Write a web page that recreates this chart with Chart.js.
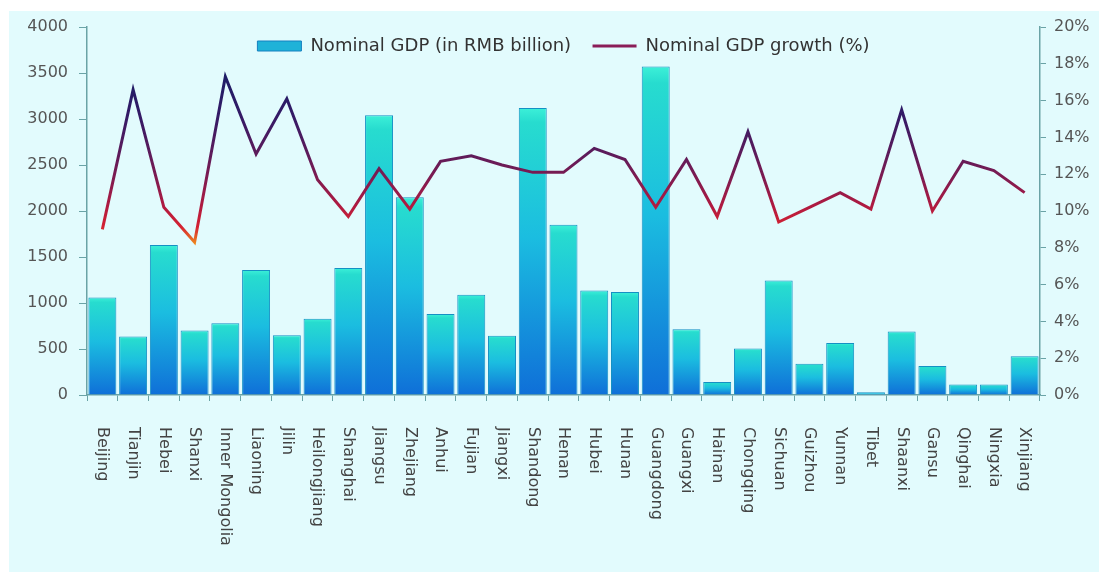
<!DOCTYPE html>
<html>
<head>
<meta charset="utf-8">
<title>Nominal GDP by province</title>
<script src="https://cdn.jsdelivr.net/npm/chart.js@4.4.0/dist/chart.umd.min.js"></script>
<style>
  html, body { margin: 0; padding: 0; background: #fff; }
  #wrap { position: relative; width: 1099px; height: 572px; }
  #panel { position: absolute; left: 9px; top: 11px; right: 0; bottom: 0; background: #e2fbfd; }
  #chart { position: absolute; left: 0; top: 0; }
</style>
</head>
<body>
<div id="wrap">
  <div id="panel"></div>
  <canvas id="chart" width="1099" height="572"></canvas>
</div>
<script>
var provinces = ['Beijing', 'Tianjin', 'Hebei', 'Shanxi', 'Inner Mongolia', 'Liaoning', 'Jilin',
  'Heilongjiang', 'Shanghai', 'Jiangsu', 'Zhejiang', 'Anhui', 'Fujian', 'Jiangxi', 'Shandong',
  'Henan', 'Hubei', 'Hunan', 'Guangdong', 'Guangxi', 'Hainan', 'Chongqing', 'Sichuan', 'Guizhou',
  'Yunnan', 'Tibet', 'Shaanxi', 'Gansu', 'Qinghai', 'Ningxia', 'Xinjiang'];

// nominal GDP, RMB billion
var gdpValues = [1060, 635, 1630, 700, 780, 1360, 650, 830, 1380, 3040, 2150, 880, 1090, 645, 3120,
  1850, 1135, 1120, 3570, 715, 140, 505, 1245, 340, 565, 30, 690, 315, 115, 115, 420];

// nominal GDP growth, %
var growthValues = [9.0, 16.6, 10.2, 8.3, 17.3, 13.1, 16.1, 11.7, 9.7, 12.3, 10.1, 12.7, 13.0, 12.5, 12.1,
  12.1, 13.4, 12.8, 10.2, 12.8, 9.7, 14.3, 9.4, 10.2, 11.0, 10.1, 15.5, 10.0, 12.7, 12.2, 11.0];

var gdpTicks = [0, 500, 1000, 1500, 2000, 2500, 3000, 3500, 4000];
var growthTicks = [0, 2, 4, 6, 8, 10, 12, 14, 16, 18, 20];

var axisColor = '#6aa3a6';
var fontFamily = '"DejaVu Sans", sans-serif';

function barFill(c) {
    var chart = c.chart;
    if (c.type !== 'data' || !chart.chartArea) return '#1fb2d8';
    var y = chart.scales.y;
    var top = y.getPixelForValue(c.raw);
    var base = y.getPixelForValue(0);
    var g = chart.ctx.createLinearGradient(0, top, 0, base);
    g.addColorStop(0, '#3cf0d8');
    g.addColorStop(0.05, '#27dccf');
    g.addColorStop(0.45, '#1bbde0');
    g.addColorStop(1, '#0f6fd8');
    return g;
}

function lineStroke(c) {
    var chart = c.chart;
    if (!chart.chartArea) return '#8a1d58';
    var y1 = chart.scales.y1;
    var g = chart.ctx.createLinearGradient(0, y1.getPixelForValue(17.5), 0, y1.getPixelForValue(8.2));
    g.addColorStop(0, '#1c1d66');
    g.addColorStop(0.25, '#341a66');
    g.addColorStop(0.48, '#5e1b5a');
    g.addColorStop(0.62, '#801b50');
    g.addColorStop(0.78, '#b01a40');
    g.addColorStop(0.9, '#d42232');
    g.addColorStop(1, '#ee8a1e');
    return g;
}

// legend sits inside the plot area but keeps its items in one row
var rowLegend = {
    id: 'rowLegend',
    beforeLayout: function (chart) {
        if (chart.legend) chart.legend.isHorizontal = function () { return true; };
    },
    afterLayout: function (chart) {
        if (!chart.legend) return;
        chart.legend.left = chart.chartArea.left;
        chart.legend.right = chart.chartArea.right;
    }
};

// province names run top-to-bottom under each bar
var provinceLabels = {
    id: 'provinceLabels',
    afterDraw: function (chart) {
        var ctx = chart.ctx;
        var xs = chart.scales.x;
        var top = chart.chartArea.bottom + 32;
        ctx.save();
        ctx.font = '16px ' + fontFamily;
        ctx.fillStyle = '#444';
        ctx.textAlign = 'left';
        ctx.textBaseline = 'middle';
        provinces.forEach(function (name, i) {
            ctx.save();
            ctx.translate(xs.getPixelForTick(i), top);
            ctx.rotate(Math.PI / 2);
            ctx.fillText(name, 0, 0);
            ctx.restore();
        });
        ctx.restore();
    }
};

var ctx = document.getElementById('chart').getContext('2d');
var chart = new Chart(ctx, {
    type: 'bar',
    data: {
        labels: provinces,
        datasets: [{
            type: 'bar',
            label: 'Nominal GDP (in RMB billion)',
            data: gdpValues,
            yAxisID: 'y',
            order: 1,
            backgroundColor: barFill,
            borderColor: '#1590c4',
            borderWidth: 1,
            barPercentage: 0.91,
            categoryPercentage: 1.0
        }, {
            type: 'line',
            label: 'Nominal GDP growth (%)',
            data: growthValues,
            yAxisID: 'y1',
            order: 0,
            borderColor: lineStroke,
            borderWidth: 3,
            pointRadius: 0,
            tension: 0,
            fill: false
        }]
    },
    options: {
        responsive: false,
        animation: false,
        devicePixelRatio: 1,
        layout: { padding: { top: 27, left: 0, right: 0, bottom: 0 } },
        plugins: {
            tooltip: { enabled: false },
            legend: {
                position: 'chartArea',
                align: 'center',
                labels: {
                    usePointStyle: true,
                    pointStyleWidth: 44,
                    boxHeight: 10,
                    padding: 10,
                    color: '#333',
                    font: { family: fontFamily, size: 18 },
                    sort: function (a, b) { return a.datasetIndex - b.datasetIndex; },
                    generateLabels: function (chart) {
                        var items = Chart.defaults.plugins.legend.labels.generateLabels(chart);
                        items.forEach(function (item) {
                            if (item.datasetIndex === 0) {
                                item.pointStyle = 'rect';
                                item.fillStyle = '#1fb2d8';
                                item.strokeStyle = '#1580c0';
                                item.lineWidth = 1;
                                item.text += '  ';
                            } else {
                                item.pointStyle = 'line';
                                item.strokeStyle = '#8a1d58';
                                item.lineWidth = 3;
                            }
                        });
                        return items;
                    }
                }
            }
        },
        scales: {
            x: {
                offset: true,
                grid: { display: true, offset: true, drawOnChartArea: false, drawTicks: true, tickLength: 6, color: axisColor },
                border: { color: axisColor, width: 1.5 },
                ticks: { display: false },
                afterFit: function (s) { s.height = 177; }
            },
            y: {
                position: 'left',
                min: gdpTicks[0],
                max: gdpTicks[gdpTicks.length - 1],
                ticks: {
                    stepSize: gdpTicks[1] - gdpTicks[0],
                    padding: 11,
                    color: '#555',
                    font: { family: fontFamily, size: 16 },
                    callback: function (v) { return String(v); }
                },
                grid: { drawOnChartArea: false, tickLength: 8, color: axisColor },
                border: { color: axisColor, width: 1.5 },
                afterFit: function (s) { s.width = 87; }
            },
            y1: {
                position: 'right',
                min: growthTicks[0],
                max: growthTicks[growthTicks.length - 1],
                ticks: {
                    stepSize: growthTicks[1] - growthTicks[0],
                    padding: 8,
                    color: '#555',
                    font: { family: fontFamily, size: 16 },
                    callback: function (v) { return v + '%'; }
                },
                grid: { drawOnChartArea: false, tickLength: 6, color: axisColor },
                border: { color: axisColor, width: 1.5 },
                afterFit: function (s) { s.width = 59; }
            }
        }
    },
    plugins: [rowLegend, provinceLabels]
});
</script>
</body>
</html>
